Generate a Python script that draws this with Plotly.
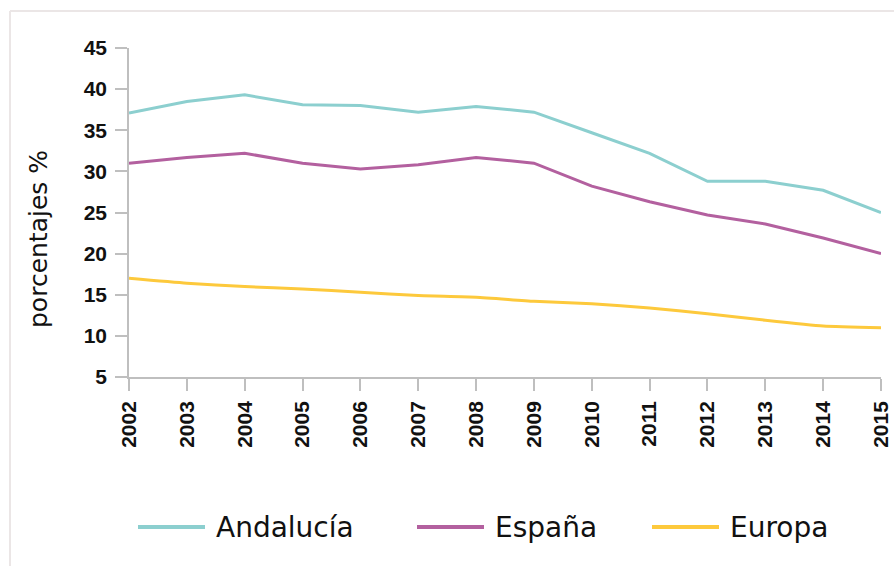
import plotly.graph_objects as go

years = [2002, 2003, 2004, 2005, 2006, 2007, 2008, 2009, 2010, 2011, 2012, 2013, 2014, 2015]
andalucia = [37.1, 38.5, 39.3, 38.1, 38.0, 37.2, 37.9, 37.2, 34.7, 32.2, 28.8, 28.8, 27.7, 25.0]
espana = [31.0, 31.7, 32.2, 31.0, 30.3, 30.8, 31.7, 31.0, 28.2, 26.3, 24.7, 23.6, 21.9, 20.0]
europa = [17.0, 16.4, 16.0, 15.7, 15.3, 14.9, 14.7, 14.2, 13.9, 13.4, 12.7, 11.9, 11.2, 11.0]
series_names = ["Andalucía", "España", "Europa"]
colors = ["#8ccfcf", "#b3609f", "#fdc93c"]
y_ticks = [5, 10, 15, 20, 25, 30, 35, 40, 45]

W, H = 894, 566
L, T, PW, PH = 129, 48, 752, 329


def px(xp):
    return (xp - L) / PW


def py(yp):
    return (T + PH - yp) / PH


fig = go.Figure()
for name, vals, col, shp in zip(series_names, [andalucia, espana, europa], colors,
                                ["linear", "linear", "spline"]):
    fig.add_trace(go.Scatter(x=years, y=vals, mode="lines", name=name,
                             line=dict(color=col, width=3, shape=shp, smoothing=0.5),
                             showlegend=False))

axis_col = "#bfbfbf"
tickfont = dict(family="Liberation Sans, Arial, sans-serif", size=21, color="#111111")
fig.update_layout(
    width=W, height=H,
    margin=dict(l=L, r=W - L - PW, t=T, b=H - T - PH),
    paper_bgcolor="white", plot_bgcolor="white",
    xaxis=dict(range=[2002, 2015], tickmode="array", tickvals=years,
               ticktext=[f"<b>{y}</b>" for y in years], tickangle=-90, automargin=False,
               showgrid=False, zeroline=False, showline=True, linecolor=axis_col, linewidth=1.5,
               ticks="outside", ticklen=12, tickcolor=axis_col, tickwidth=1.5,
               tickfont=tickfont, ticklabelstandoff=2, ticklabeloverflow="allow"),
    yaxis=dict(range=[5, 45], tickmode="array", tickvals=y_ticks,
               ticktext=[f"<b>{v}</b>" for v in y_ticks], automargin=False,
               showgrid=False, zeroline=False, showline=True, linecolor=axis_col, linewidth=1.5,
               ticks="outside", ticklen=12, tickcolor=axis_col, tickwidth=1.5,
               tickfont=tickfont, ticklabelstandoff=4),
)

# y-axis title
fig.add_annotation(text="porcentajes %", xref="paper", yref="paper",
                   x=px(38), y=py(239), showarrow=False, textangle=-90,
                   font=dict(family="DejaVu Sans, sans-serif", size=25, color="#111111"),
                   xanchor="center", yanchor="middle")

# frame lines (top and left edges)
fig.add_shape(type="line", xref="paper", yref="paper",
              x0=px(10), x1=px(900), y0=py(11), y1=py(11),
              line=dict(color="#ebe6e6", width=2))
fig.add_shape(type="line", xref="paper", yref="paper",
              x0=px(10), x1=px(10), y0=py(11), y1=py(570),
              line=dict(color="#ebe6e6", width=2))

# legend (manual)
leg_y = py(527)
leg_x = [138, 417, 652]
for name, col, lx in zip(series_names, colors, leg_x):
    fig.add_shape(type="line", xref="paper", yref="paper",
                  x0=px(lx), x1=px(lx + 67), y0=leg_y, y1=leg_y,
                  line=dict(color=col, width=4))
    fig.add_annotation(text=name, xref="paper", yref="paper",
                       x=px(lx + 76), y=leg_y, showarrow=False,
                       xanchor="left", yanchor="middle",
                       font=dict(family="DejaVu Sans, sans-serif", size=28, color="#111111"))

fig.write_html("out.html", config={"displayModeBar": False},
               post_script="document.body.style.margin='0';document.body.style.overflow='hidden';")
